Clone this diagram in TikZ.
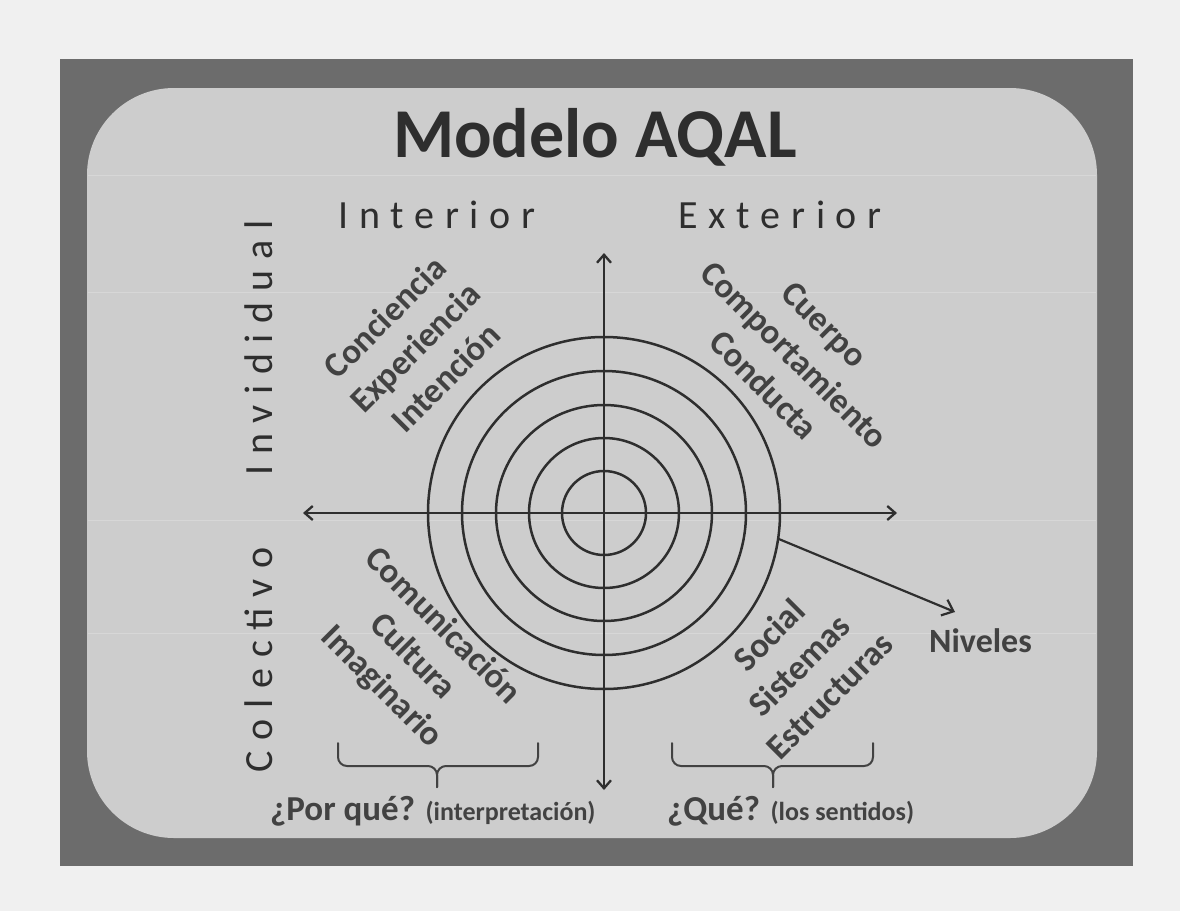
\documentclass[tikz,border=0pt]{standalone}
\usepackage{fontspec}
\setmainfont{Carlito}
\usetikzlibrary{arrows.meta,calc}
\definecolor{pagebg}{HTML}{F0F0F0}
\definecolor{framegray}{HTML}{6C6C6C}
\definecolor{panel}{HTML}{CDCDCD}
\definecolor{streak}{HTML}{D7D7D7}
\definecolor{ink}{HTML}{2E2E2E}
\definecolor{txt}{HTML}{424242}
\begin{document}
\begin{tikzpicture}[x=1pt,y=-1pt,
  lab/.style={font=\fontsize{35}{43}\selectfont\bfseries, text=txt, align=center, inner sep=0pt},
  side/.style={font={\fontsize{40}{48}\selectfont\addfontfeature{LetterSpace=27}}, text=ink, inner sep=0pt},
  bottomlab/.style={font=\fontsize{35}{42}\selectfont\bfseries, text=txt, anchor=base west, inner sep=0pt},
  axis/.style={draw=ink, line width=2.3pt, >={Straight Barb[length=8pt,width=14pt]}, <->},
  ring/.style={draw=ink, line width=2.5pt},
  brace/.style={draw=txt, line width=2pt, line cap=round, line join=round, rounded corners=9pt}
]
\useasboundingbox (0,0) rectangle (1180,911);
% background
\fill[pagebg] (0,0) rectangle (1180,911);
\fill[framegray] (60,59) rectangle (1133,866);
\fill[panel, rounded corners=87pt] (87,88) rectangle (1097,838);
\foreach \yy in {175,292,520,633}
  \draw[streak, line width=0.8pt] (88,\yy) -- (1096,\yy);

% title
\node[font=\fontsize{70}{84}\selectfont\bfseries, text=ink, anchor=base, inner sep=0pt] (title) at (595,157) {Modelo AQAL};

% side labels
\node[side, anchor=base] (interior) at (437,228) {Interior};
\node[side, anchor=base] (exterior) at (780,228) {Exterior};
\node[side, rotate=90, anchor=base] (individual) at (272,348) {Invididual};
\node[side, rotate=90, anchor=base] (colectivo) at (272,660) {Colectivo};

% axes
\coordinate (c) at (604,513);
\coordinate (ntop) at (604,253);
\coordinate (nbot) at (604,790);
\coordinate (wleft) at (303,513);
\coordinate (eright) at (897,513);
\draw[axis] (ntop) -- (nbot);
\draw[axis] (wleft) -- (eright);

% rings
\foreach \r in {42,75,108,142,176}
  \draw[ring] (c) circle[radius={\r pt}];

% levels arrow
\coordinate (nstart) at ($(c)+(8.4:176)$);
\coordinate (nend) at (955,612);
\draw[ink, line width=2.2pt, -{Straight Barb[length=10pt,width=17pt]}] (nstart) -- (nend);
\node[lab, font=\fontsize{34}{40}\selectfont\bfseries, anchor=base west] (niveles) at (929,652) {Niveles};

% quadrant labels
\node[lab, rotate=45] (ulq) at (415,347) {Conciencia\\Experiencia\\Intención};
\node[lab, rotate=-45] (urq) at (794,355) {Cuerpo\\Comportamiento\\Conducta};
\node[lab, rotate=-45] (llq) at (412,657) {Comunicación\\Cultura\\Imaginario};
\node[lab, rotate=45] (lrq) at (799,665) {Social\\Sistemas\\Estructuras};

% braces
\draw[brace] (338,743) -- (338,766) -- (437,766) -- (437,787);
\draw[brace] (538,743) -- (538,766) -- (437,766) -- (437,787);
\draw[brace] (672,743) -- (672,766) -- (773,766) -- (773,787);
\draw[brace] (873,743) -- (873,766) -- (773,766) -- (773,787);

% bottom labels
\node[bottomlab] (porque) at (270,820) {¿Por qué? {\fontsize{26}{31}\selectfont(interpretación)}};
\node[bottomlab] (que) at (667,820) {¿Qué? {\fontsize{26}{31}\selectfont(los sentidos)}};
\end{tikzpicture}
\end{document}
